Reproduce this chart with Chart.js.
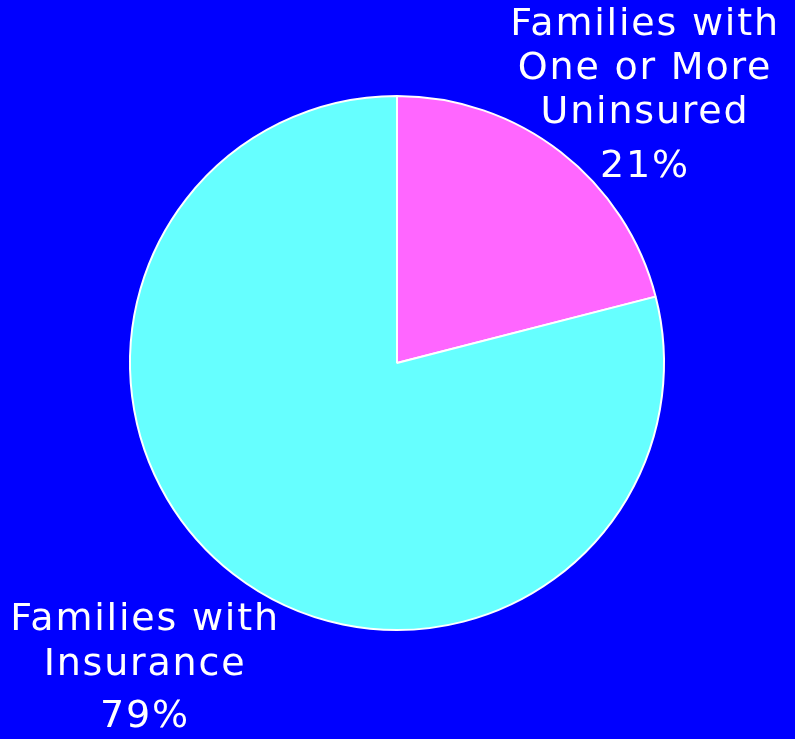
<!DOCTYPE html>
<html>
<head>
<meta charset="utf-8">
<script src="https://cdn.jsdelivr.net/npm/chart.js@4.4.1/dist/chart.umd.min.js"></script>
<style>
  html, body { margin: 0; padding: 0; background: #0000ff; }
  #wrap { width: 795px; height: 739px; }
</style>
</head>
<body>
<div id="wrap"><canvas id="pie" width="795" height="739"></canvas></div>
<script>
// --- DATA ---
const categories = ['Families with One or More Uninsured', 'Families with Insurance'];
const shares = [21, 79];
const sliceColors = ['#ff66ff', '#66ffff'];

// label lines for each slice (percent added from shares)
const labelLines = [
    ['Families with', 'One or More', 'Uninsured'],
    ['Families with', 'Insurance']
];

// text placement: centre x, first line y, line step, gap before percent
const labelSpots = [
    { x: 645, y: 25, step: 44, pctGap: 54 },
    { x: 145, y: 620, step: 45, pctGap: 52 }
];

// Draws the multi-line slice labels outside the pie
const sliceLabels = {
    id: 'sliceLabels',
    afterDraw(chart) {
        const ctx = chart.ctx;
        ctx.save();
        ctx.fillStyle = '#ffffff';
        ctx.font = '38px "DejaVu Sans"';
        ctx.textAlign = 'center';
        ctx.textBaseline = 'middle';
        if ('letterSpacing' in ctx) ctx.letterSpacing = '1.8px';
        labelLines.forEach((lines, i) => {
            const spot = labelSpots[i];
            let y = spot.y;
            lines.forEach((line, j) => {
                ctx.fillText(line, spot.x, y);
                if (j < lines.length - 1) y += spot.step;
            });
            ctx.fillText(shares[i] + '%', spot.x, y + spot.pctGap);
        });
        ctx.restore();
    }
};

const ctx = document.getElementById('pie');
new Chart(ctx, {
    type: 'pie',
    data: {
        labels: categories,
        datasets: [{
            data: shares,
            backgroundColor: sliceColors,
            borderColor: '#ffffff',
            borderWidth: 2
        }]
    },
    options: {
        responsive: false,
        animation: false,
        layout: { padding: { top: 95, bottom: 108, left: 129, right: 130 } },
        plugins: {
            legend: { display: false },
            tooltip: { enabled: false }
        }
    },
    plugins: [sliceLabels]
});
</script>
</body>
</html>
